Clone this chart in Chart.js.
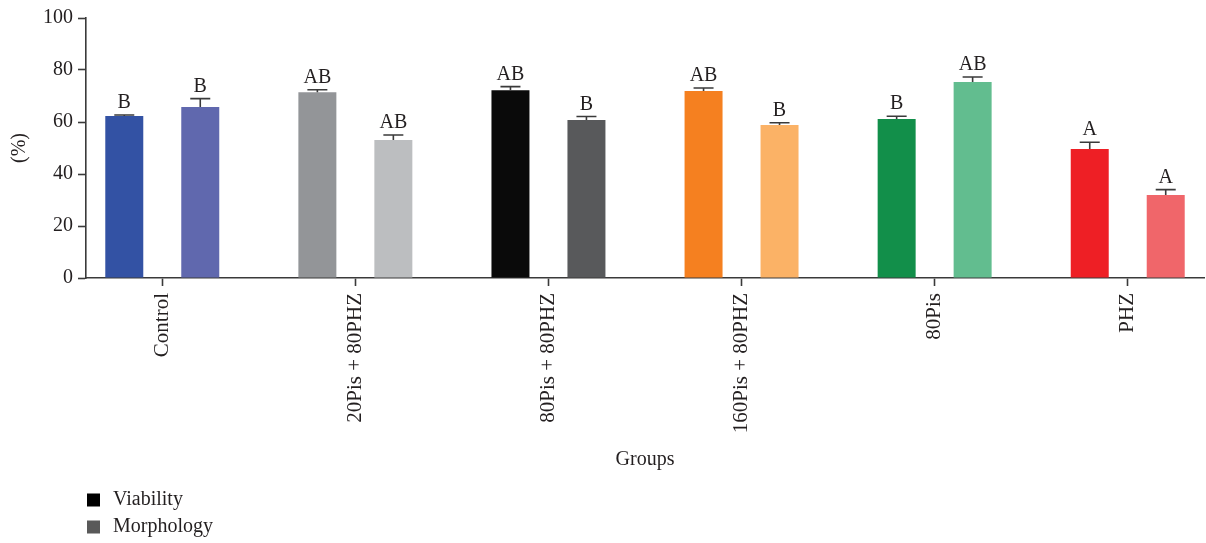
<!DOCTYPE html>
<html>
<head>
<meta charset="utf-8">
<script src="https://cdn.jsdelivr.net/npm/chart.js@4.4.1/dist/chart.umd.min.js"></script>
<style>
  html, body { margin: 0; padding: 0; background: #ffffff; }
  #wrap { width: 1206px; height: 543px; }
</style>
</head>
<body>
<div id="wrap"><canvas id="c" width="1206" height="543"></canvas></div>
<script>
// Group names along the x axis
const groups = ['Control', '20Pis + 80PHZ', '80Pis + 80PHZ', '160Pis + 80PHZ', '80Pis', 'PHZ'];

// Viability (%) mean and error per group
const viability = [62.3, 71.4, 72.2, 71.9, 61.2, 49.6];
const viabilityErr = [0.4, 1.0, 1.4, 1.2, 1.0, 2.6];
const viabilityLetters = ['B', 'AB', 'AB', 'AB', 'B', 'A'];

// Morphology (%) mean and error per group
const morphology = [65.8, 53.1, 60.8, 58.8, 75.4, 31.9];
const morphologyErr = [3.2, 1.9, 1.3, 0.9, 1.9, 2.1];
const morphologyLetters = ['B', 'AB', 'B', 'B', 'AB', 'A'];

// Y axis tick values
const yTicks = [0, 20, 40, 60, 80, 100];

// Bar colours per group
const viabilityColors = ['#3352a4', '#939598', '#0a0a0a', '#f58020', '#128f4a', '#ee1f25'];
const morphologyColors = ['#6068ae', '#bcbec0', '#58595b', '#fbb266', '#62bd8f', '#f0666a'];

const FONT = 'Liberation Serif, "Times New Roman", serif';
const TEXT = '#231f20';
const AXIS = '#3a3a3a';

const toPoints = vals => vals.map((v, i) => ({ x: i, y: v }));

// Error bars plus significance letters above each bar
const errorBars = {
  id: 'errorBars',
  afterDatasetsDraw(chart) {
    const { ctx } = chart;
    const yScale = chart.scales.y;
    chart.data.datasets.forEach((ds, di) => {
      const meta = chart.getDatasetMeta(di);
      meta.data.forEach((bar, i) => {
        const v = ds.data[i].y;
        const top = yScale.getPixelForValue(v + ds.errors[i]);
        ctx.save();
        ctx.strokeStyle = AXIS;
        ctx.lineWidth = 1.6;
        ctx.beginPath();
        ctx.moveTo(bar.x, bar.y);
        ctx.lineTo(bar.x, top);
        ctx.moveTo(bar.x - 10, top);
        ctx.lineTo(bar.x + 10, top);
        ctx.stroke();
        ctx.fillStyle = TEXT;
        ctx.font = '20px ' + FONT;
        ctx.textAlign = 'center';
        ctx.textBaseline = 'alphabetic';
        ctx.fillText(ds.letters[i], bar.x, top - 7);
        ctx.restore();
      });
    });
  }
};

// Stacked legend at the lower left
const stackedLegend = {
  id: 'stackedLegend',
  afterDraw(chart) {
    const { ctx } = chart;
    const x0 = chart.chartArea.left;
    chart.data.datasets.forEach((ds, di) => {
      const cy = 500 + di * 27;
      ctx.save();
      ctx.fillStyle = ds.legendColor;
      ctx.fillRect(x0 + 1, cy - 6.5, 13, 13);
      ctx.fillStyle = TEXT;
      ctx.font = '20px ' + FONT;
      ctx.textAlign = 'left';
      ctx.textBaseline = 'middle';
      ctx.fillText(ds.label, x0 + 27, cy);
      ctx.restore();
    });
  }
};

new Chart(document.getElementById('c'), {
  type: 'bar',
  data: {
    datasets: [
      {
        label: 'Viability',
        data: toPoints(viability),
        errors: viabilityErr,
        letters: viabilityLetters,
        backgroundColor: viabilityColors,
        legendColor: '#000000',
        borderWidth: 0
      },
      {
        label: 'Morphology',
        data: toPoints(morphology),
        errors: morphologyErr,
        letters: morphologyLetters,
        backgroundColor: morphologyColors,
        legendColor: '#595959',
        borderWidth: 0
      }
    ]
  },
  options: {
    responsive: false,
    devicePixelRatio: 1,
    animation: false,
    categoryPercentage: 0.787,
    barPercentage: 0.5,
    layout: { padding: { top: 18, right: 2, bottom: 71, left: 0 } },
    plugins: { legend: { display: false }, tooltip: { enabled: false } },
    scales: {
      x: {
        type: 'linear',
        offset: false,
        min: -0.395,
        max: 5.395,
        afterBuildTicks: s => { s.ticks = groups.map((_, i) => ({ value: i })); },
        afterFit: s => { s.height = 194; },
        ticks: {
          callback: v => groups[v],
          autoSkip: false,
          minRotation: 90,
          maxRotation: 90,
          padding: 7,
          color: TEXT,
          font: { family: FONT, size: 21 }
        },
        grid: { offset: false, drawOnChartArea: false, drawTicks: true, tickLength: 8, tickWidth: 1.6, tickColor: AXIS },
        border: { display: true, color: AXIS, width: 1.6 },
        title: { display: true, text: 'Groups', color: TEXT, font: { family: FONT, size: 20 }, padding: 0 }
      },
      y: {
        min: 0,
        max: 100,
        afterBuildTicks: s => { s.ticks = yTicks.map(v => ({ value: v })); },
        afterFit: s => { s.width = 86; },
        ticks: { padding: 5, color: TEXT, font: { family: FONT, size: 20 } },
        grid: { drawOnChartArea: false, drawTicks: true, tickLength: 8, tickWidth: 1.6, tickColor: AXIS },
        border: { display: true, color: AXIS, width: 1.6 },
        title: { display: true, text: '(%)', color: TEXT, font: { family: FONT, size: 20 }, padding: { top: 8, bottom: 0 } }
      }
    }
  },
  plugins: [errorBars, stackedLegend]
});
</script>
</body>
</html>
